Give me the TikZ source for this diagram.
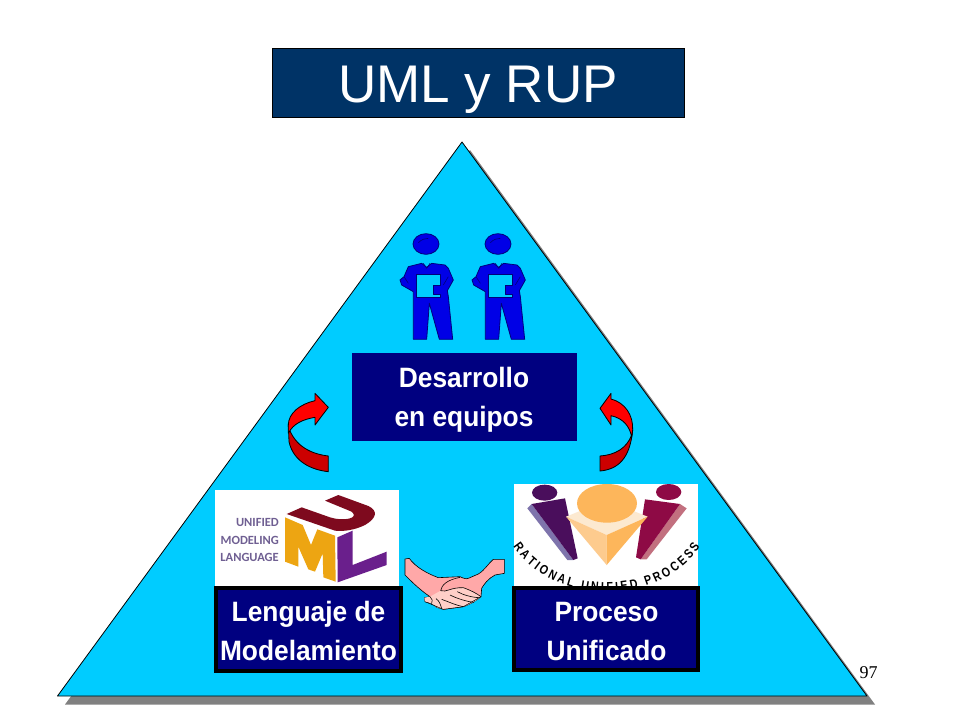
\documentclass[tikz,border=0pt]{standalone}
\usepackage{fontspec}
\setmainfont{Liberation Sans}
\newfontfamily\boxfont[FakeStretch=0.94]{Liberation Sans}
\newfontfamily\ratfont[FakeStretch=0.82]{Liberation Sans}
\newfontfamily\umlfont{Carlito}
\newfontfamily\numfont{Liberation Serif}
\usetikzlibrary{decorations.text}
\definecolor{titleblue}{HTML}{003366}
\definecolor{skyfill}{HTML}{00CCFF}
\definecolor{navybox}{HTML}{000080}
\definecolor{figblue}{HTML}{0000E6}
\definecolor{figline}{HTML}{00007A}
\definecolor{umlred}{HTML}{7E0A1E}
\definecolor{umlorange}{HTML}{EDA512}
\definecolor{umlpurple}{HTML}{6A1F8C}
\definecolor{umlgray}{HTML}{6F5F92}
\definecolor{ratpurple}{HTML}{4A0E5C}
\definecolor{ratlight}{HTML}{7E74AC}
\definecolor{ratred}{HTML}{8E0A45}
\definecolor{ratrose}{HTML}{C2707F}
\definecolor{ratorange}{HTML}{FDB65B}
\definecolor{ratpale}{HTML}{FDCB8E}
\definecolor{ratcream}{HTML}{FCE9D0}
\definecolor{handpink}{HTML}{FFA8A8}
\definecolor{handlight}{HTML}{FFCFC8}
\tikzset{
  caption/.style={fill=navybox,text=white,font=\boxfont\fontsize{28}{39}\selectfont\bfseries,align=center,inner sep=0pt,anchor=center},
  logobox/.style={fill=white,draw=none,inner sep=0pt,anchor=center},
  umltext/.style={anchor=east,inner sep=0pt,text=umlgray,font=\umlfont\fontsize{12.5}{14}\selectfont\bfseries},
  figure/.style={fill=figblue,draw=figline,line width=0.8pt,line join=round},
  figdetail/.style={draw=figline,line width=0.6pt,line join=round},
  redup/.style={fill=red,draw=black,line width=0.8pt,line join=round},
  reddown/.style={fill=red!80!black,draw=black,line width=0.8pt,line join=round},
  handline/.style={draw=black,line width=0.6pt,line join=round}
}
\begin{document}
\begin{tikzpicture}[x=1pt,y=-1pt]
\useasboundingbox (0,0) rectangle (960,720);
% title
\node[fill=titleblue,draw=black,line width=0.8pt,minimum width=412pt,minimum height=69pt,inner sep=0pt] (title) at (478.5,83) {};
\node[inner sep=0pt,text=white,font=\fontsize{53}{60}\selectfont] (titletext) at (478,90) {UML y RUP};
% pyramid
\fill[black!50] (470,150) -- (875,704.5) -- (65,704.5) -- cycle;
\coordinate (apex) at (462,142);
\coordinate (bl) at (57.5,696);
\coordinate (br) at (867,696);
\draw[fill=skyfill,draw=black,line width=0.8pt,line join=round] (apex) -- (br) -- (bl) -- cycle;
% people
\foreach \dx in {0,72}{
\begin{scope}[shift={(380+\dx,220)},scale=1/3]
  \draw[figure] (138,72) ellipse (39 and 31);
  \draw[figdetail] (115,68) .. controls (125,58) and (135,55) .. (145,55);
  \draw[figure] (125,130) -- (85,140) -- (72,170) -- (60,180) -- (65,195) -- (100,215) -- (100,358) -- (140,358) -- (148,250) -- (178,358) -- (218,358) -- (205,230) -- (202,212) -- (220,180) -- (205,145) -- (195,135) -- (155,130) -- (140,142) -- cycle;
  \draw[figdetail] (130,130) -- (140,145) -- (150,130);
  \draw[figdetail] (72,170) -- (85,190);
  \draw[figdetail] (205,170) -- (190,195);
  \draw[fill=skyfill,draw=figline,line width=0.6pt,line join=round] (110,163) -- (180,163) -- (180,195) -- (160,195) -- (160,222) -- (180,222) -- (180,232) -- (110,232) -- cycle;
\end{scope}
}
% top caption
\node[caption,minimum width=225pt,minimum height=88pt] (teambox) at (464.5,397) {};
\node[inner sep=0pt,text=white,align=center,font=\boxfont\fontsize{28}{39}\selectfont\bfseries] (team) at (464,399.5) {Desarrollo\\en equipos};
% left arrow
\begin{scope}[shift={(275,380)},scale=1/3]
  \draw[reddown] (40,130) -- (42,185) .. controls (55,245) and (110,270) .. (160,275) -- (160,228) .. controls (110,222) and (60,200) .. (40,140) -- cycle;
  \draw[redup] (160,82) -- (120,40) -- (120,62) .. controls (75,72) and (40,100) .. (40,135) -- (40,160) .. controls (55,130) and (85,118) .. (120,112) -- (120,135) -- cycle;
\end{scope}
% right arrow
\begin{scope}[shift={(590,380)},scale=1/3]
  \draw[reddown] (125,165) .. controls (110,205) and (75,225) .. (30,228) -- (30,273) .. controls (85,268) and (120,235) .. (128,150) -- cycle;
  \draw[redup] (30,85) -- (63,40) -- (63,57) .. controls (105,68) and (130,105) .. (128,150) -- (125,172) .. controls (120,140) and (100,115) .. (63,107) -- (63,135) -- cycle;
\end{scope}
% UML logo
\node[logobox,minimum width=184pt,minimum height=97pt] (umlbg) at (307,538.5) {};
\node[umltext] (u1) at (279,522) {UNIFIED};
\node[umltext] (u2) at (279,540) {MODELING};
\node[umltext] (u3) at (279,557) {LANGUAGE};
\begin{scope}[shift={(280,490)},scale=1/3]
  \fill[umlred] (20,72) -- (65,52) -- (150,82) .. controls (190,95) and (240,85) .. (215,65) -- (135,32) -- (175,15) -- (265,48) .. controls (295,62) and (290,85) .. (255,105) .. controls (225,120) and (190,125) .. (165,122) -- cycle;
  \fill[umlorange] (15,82) -- (68,105) -- (93,165) -- (112,118) -- (165,137) -- (167,275) -- (130,262) -- (128,190) -- (105,245) -- (85,238) -- (55,170) -- (55,230) -- (15,215) -- cycle;
  \fill[umlpurple] (172,142) -- (218,122) -- (218,225) -- (320,185) -- (320,225) -- (173,277) -- cycle;
\end{scope}
% Rational logo
\node[logobox,minimum width=184pt,minimum height=103pt] (ratbg) at (606,535.5) {};
\begin{scope}[shift={(510,480)},scale=1/3]
  \fill[ratpurple] (104,38) ellipse (38 and 24);
  \fill[ratred] (476,36) ellipse (38 and 24);
  \fill[ratlight] (52,85) -- (65,72) -- (190,240) -- (172,240) -- cycle;
  \fill[ratpurple] (65,72) -- (165,55) -- (203,235) -- (190,240) -- cycle;
  \fill[ratrose] (510,72) -- (530,85) -- (410,238) -- (392,238) -- cycle;
  \fill[ratred] (405,58) -- (510,72) -- (392,238) -- (378,232) -- cycle;
  \fill[ratcream] (168,110) -- (230,85) -- (350,85) -- (413,110) -- (290,165) -- cycle;
  \fill[ratpale] (168,110) -- (290,165) -- (290,255) -- cycle;
  \fill[ratorange] (413,110) -- (290,165) -- (290,255) -- cycle;
  \fill[ratorange] (291,70) ellipse (90 and 58);
\end{scope}
\path[decorate,decoration={text along path,text align={fit to path},text={|\ratfont\fontsize{13}{14}\selectfont\bfseries|RATIONAL UNIFIED PROCESS}}]
  (513.3,546.7) .. controls (553.3,606.7) and (660,606.7) .. (700,546.7);
% lower captions
\node[caption,draw=black,line width=4pt,minimum width=185pt,minimum height=83pt] (umlbox) at (308,629.5) {};
\node[inner sep=0pt,text=white,align=center,font=\boxfont\fontsize{28}{39}\selectfont\bfseries] (uml) at (308.5,631) {Lenguaje de\\Modelamiento};
\node[caption,draw=black,line width=4pt,minimum width=184pt,minimum height=82pt] (rupbox) at (606,629) {};
\node[inner sep=0pt,text=white,align=center,font=\boxfont\fontsize{28}{39}\selectfont\bfseries] (rup) at (606.5,631) {Proceso\\Unificado};
% handshake
\begin{scope}[shift={(400,550)},scale=1/3]
  \draw[handline,fill=handpink] (15,27) -- (28,25) .. controls (45,50) and (80,70) .. (115,83) -- (180,80) .. controls (190,85) and (200,88) .. (205,85) -- (235,72) .. controls (255,60) and (265,40) .. (280,28) -- (313,28) -- (313,70) -- (285,75) .. controls (265,85) and (250,105) .. (245,115) -- (243,140) .. controls (225,155) and (205,165) .. (190,170) -- (130,178) -- (110,172) -- (95,160) -- (75,155) -- (73,143) -- (90,140) .. controls (60,120) and (35,95) .. (15,75) -- cycle;
  \fill[handlight] (122,122) .. controls (140,128) and (150,112) .. (190,113) .. controls (210,120) and (230,130) .. (243,140) .. controls (225,155) and (205,165) .. (190,170) -- (130,178) -- (110,172) -- (95,160) -- (75,155) -- (73,143) -- (90,140) -- cycle;
  \draw[handline] (122,122) .. controls (125,105) and (140,90) .. (180,82);
  \draw[handline] (122,122) .. controls (140,128) and (150,112) .. (190,113) .. controls (210,120) and (230,130) .. (243,140);
  \draw[handline] (90,140) .. controls (98,145) and (98,155) .. (95,160);
  \draw[handline] (108,146) .. controls (118,152) and (122,165) .. (125,176);
  \draw[handline] (125,148) .. controls (145,155) and (165,165) .. (190,170);
  \draw[handline] (150,135) .. controls (170,145) and (200,155) .. (222,157);
  \draw[handline] (172,125) .. controls (190,135) and (215,142) .. (238,143);
  \draw[handline,line width=0.5pt] (75,155) -- (130,178) -- (190,170) -- (243,140);
\end{scope}
% page number
\node[inner sep=0pt,font=\numfont\fontsize{18}{20}\selectfont] (page) at (868.5,673) {97};
\end{tikzpicture}
\end{document}
